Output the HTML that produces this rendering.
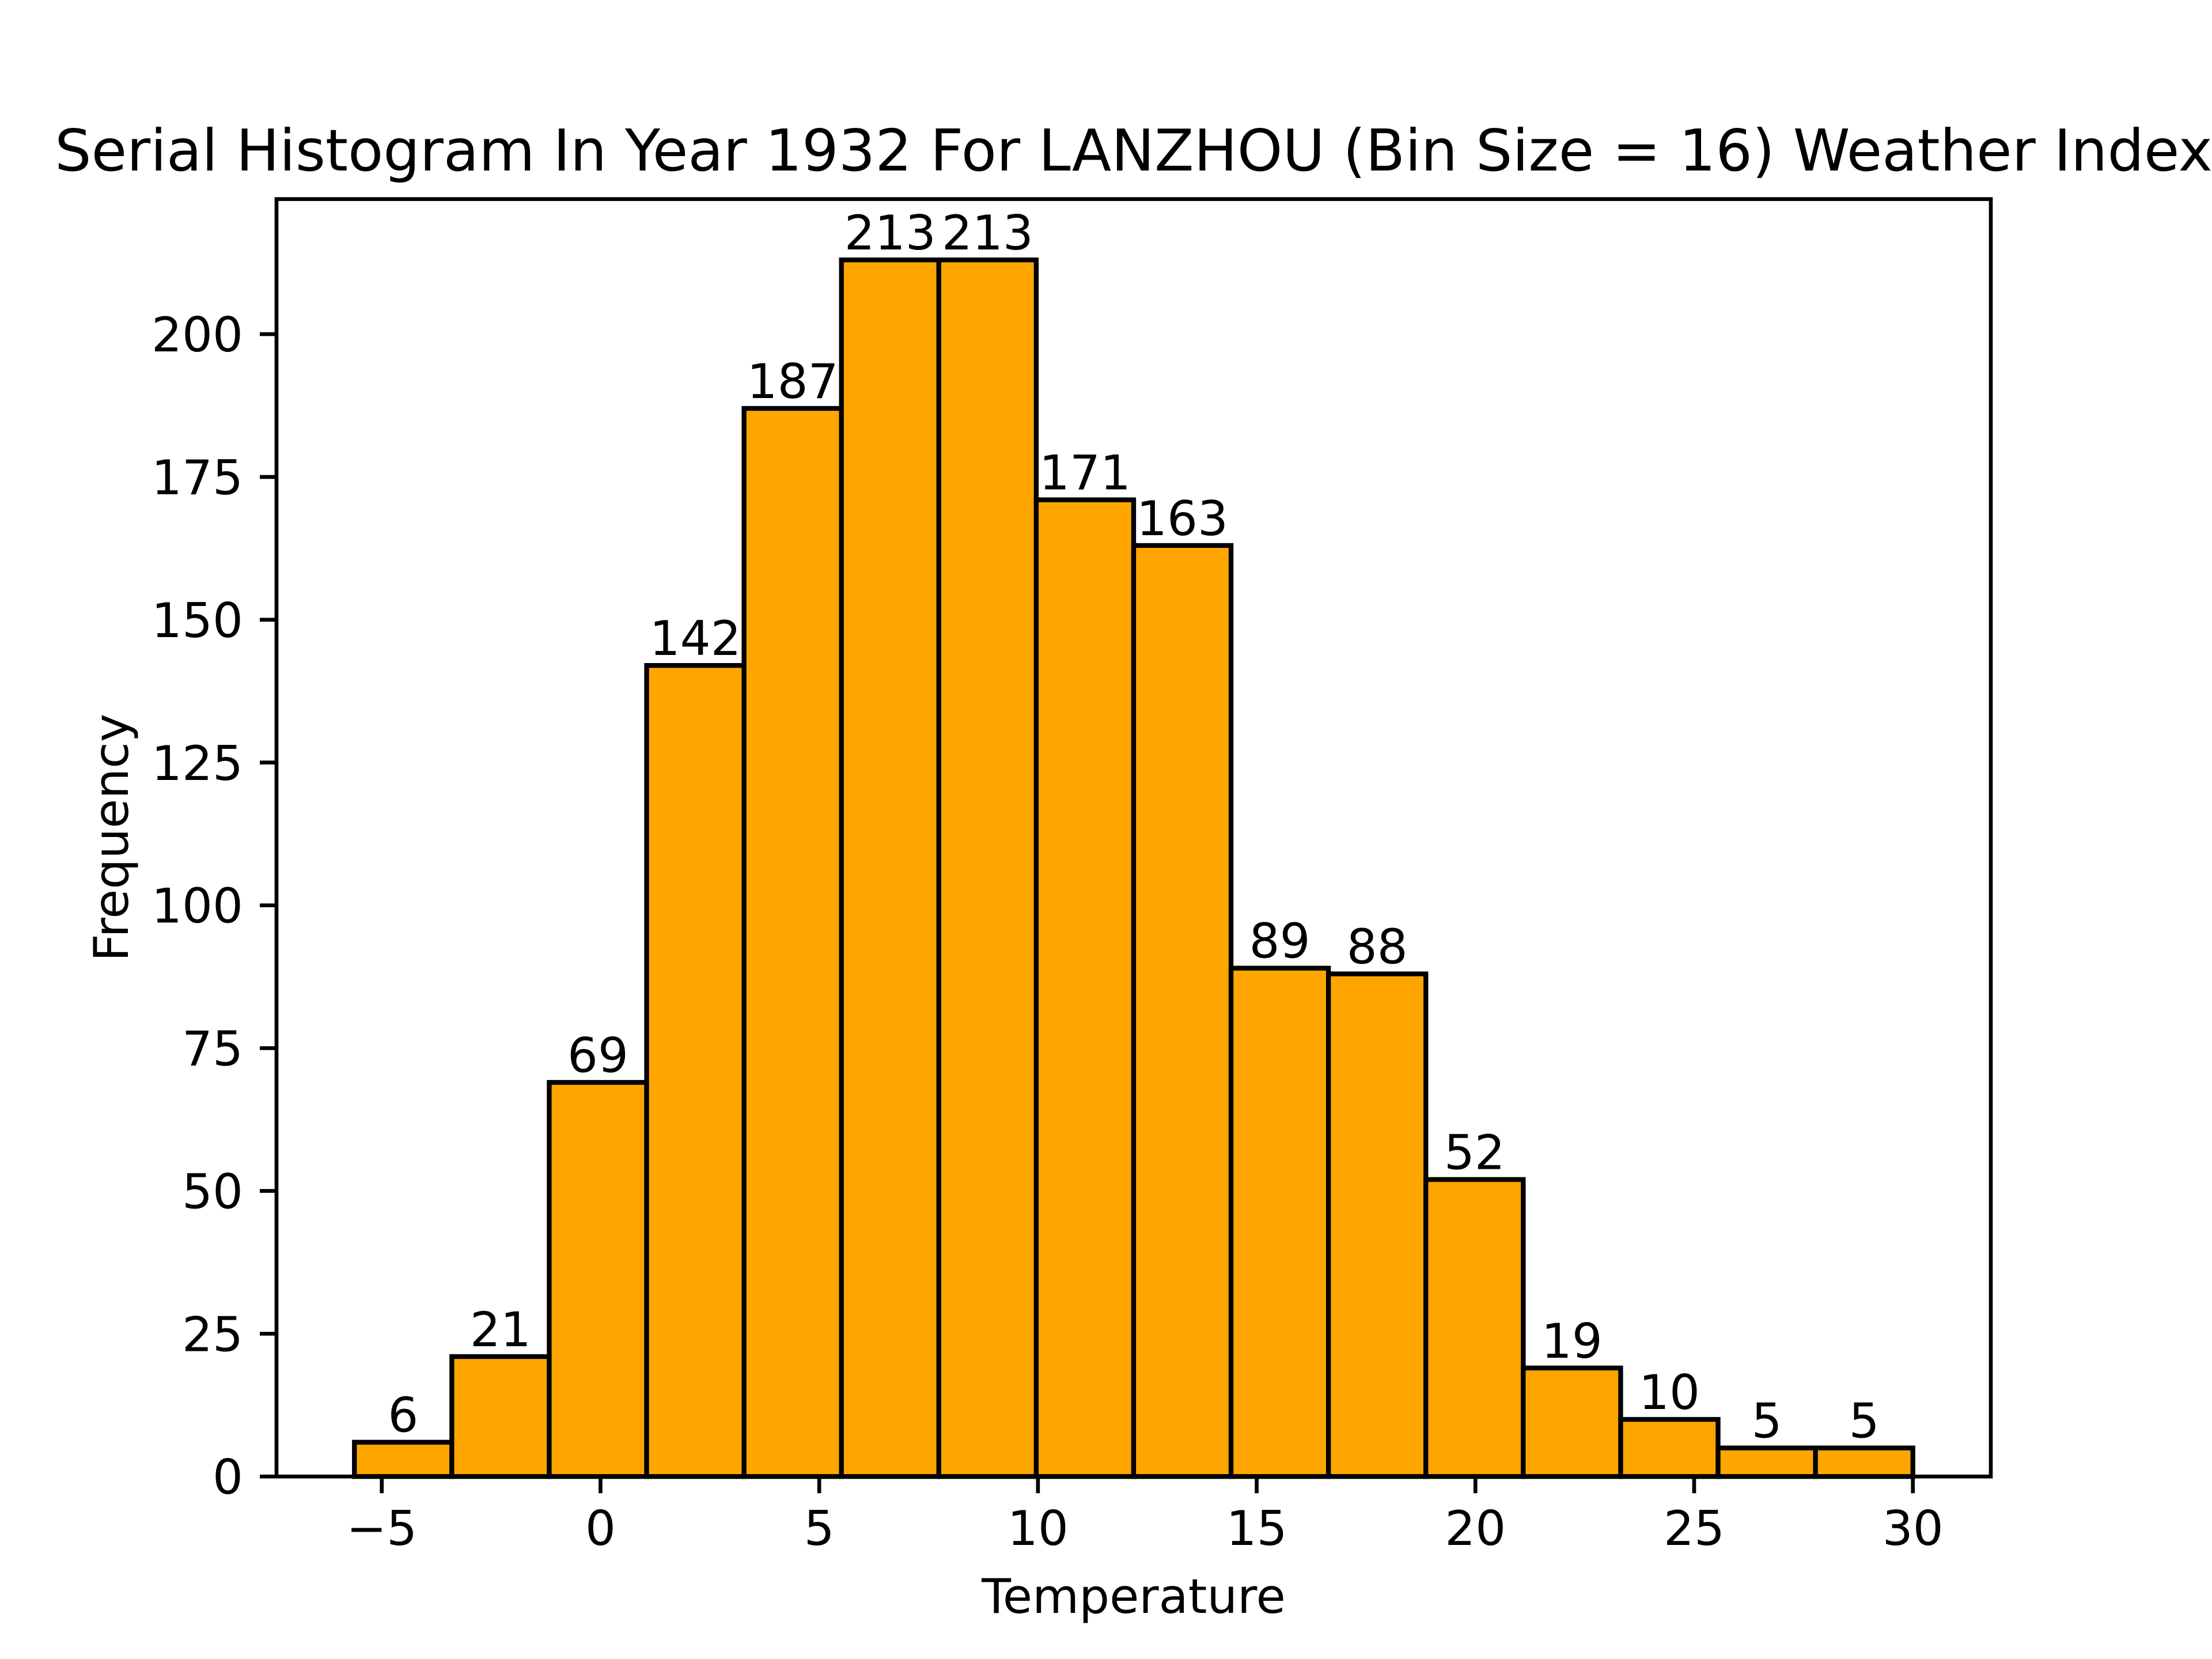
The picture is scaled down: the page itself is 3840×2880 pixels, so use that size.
<!DOCTYPE html>
<html><head><meta charset="utf-8"><style>
html,body{margin:0;padding:0;background:#fff;}
svg{display:block;font-family:"DejaVu Sans","Liberation Sans",sans-serif;}
</style></head><body>
<svg id="chart" width="3840" height="2880" viewBox="0 0 3840 2880" xmlns="http://www.w3.org/2000/svg">
<rect width="3840" height="2880" fill="#fff"/>
<text x="1968" y="296" font-size="100" text-anchor="middle">Serial Histogram In Year 1932 For LANZHOU (Bin Size = 16) Weather Index</text>
<g id="bars"></g>
<g id="xticks"></g>
<g id="yticks"></g>
<rect x="480" y="345.6" width="2976" height="2217.6" fill="none" stroke="#000" stroke-width="6.67"/>
<text x="1968" y="2800" font-size="83.3" text-anchor="middle">Temperature</text>
<text x="222" y="1454" font-size="83.3" text-anchor="middle" transform="rotate(-90 222 1454)">Frequency</text>
</svg>
<script>
const binStart = -5.625;
const binWidth = 2.2265625;
const counts = [6,21,69,142,187,213,213,171,163,89,88,52,19,10,5,5];
const xTicks = [-5,0,5,10,15,20,25,30];
const xTickLabels = ["\u22125","0","5","10","15","20","25","30"];
const yTicks = [0,25,50,75,100,125,150,175,200];

const NS = "http://www.w3.org/2000/svg";
const L=480,R=3456,T=345.6,B=2563.2;
const xmin=binStart, xmax=binStart+binWidth*counts.length, xpad=(xmax-xmin)*0.05;
const ymax=Math.max(...counts)*1.05;
const X=v=>L+(v-(xmin-xpad))/((xmax+xpad)-(xmin-xpad))*(R-L);
const Y=v=>B-v/ymax*(B-T);
function mk(tag,attrs,parent){const e=document.createElementNS(NS,tag);for(const k in attrs)e.setAttribute(k,attrs[k]);parent.appendChild(e);return e;}
const bars=document.getElementById('bars');
counts.forEach((c,i)=>{
  const x0=X(binStart+i*binWidth), x1=X(binStart+(i+1)*binWidth);
  const r=mk('rect',{x:x0,y:Y(c),width:x1-x0,height:Y(0)-Y(c),fill:'#ffa500',stroke:'#000','stroke-width':8.33},bars);
  
  
  const t=mk('text',{x:(x0+x1)/2,y:Y(c)-18,'font-size':83.3,'text-anchor':'middle'},bars);
  t.textContent=c;
  
  
});
const xt=document.getElementById('xticks');
xTicks.forEach((v,i)=>{
  const x=X(v);
  const l=mk('line',{x1:x,x2:x,y1:B,y2:B+29,stroke:'#000','stroke-width':6.67},xt);
  
  
  const t=mk('text',{x:x,y:2682,'font-size':83.3,'text-anchor':'middle'},xt);
  t.textContent=xTickLabels[i];
  
  
});
const yt=document.getElementById('yticks');
yTicks.forEach(v=>{
  const y=Y(v);
  const l=mk('line',{x1:L-29,x2:L,y1:y,y2:y,stroke:'#000','stroke-width':6.67},yt);
  
  
  const t=mk('text',{x:422,y:y+30,'font-size':83.3,'text-anchor':'end'},yt);
  t.textContent=v;
  
  
});
</script>
</body></html>
